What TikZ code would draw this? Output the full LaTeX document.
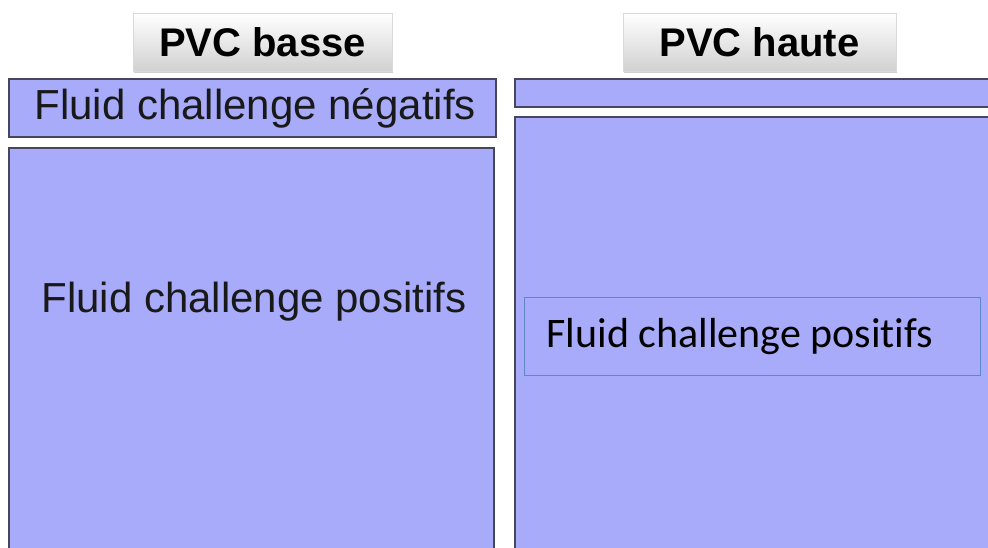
\documentclass[tikz,border=0pt]{standalone}
\usepackage{fontspec}
\setmainfont{Liberation Sans}
\newfontfamily\calib[Ligatures=NoCommon]{Carlito}
\usetikzlibrary{shadows}
\definecolor{fillblue}{RGB}{168,170,250}
\definecolor{edgegray}{RGB}{70,70,95}
\definecolor{innerblue}{RGB}{95,135,200}
\tikzset{
  x=1pt, y=-1pt,
  panel/.style={draw=edgegray, line width=2.8pt, fill=fillblue},
  header/.style={top color=white, bottom color=black!18, draw=black!15, line width=0.5pt,
     drop shadow={shadow xshift=1pt, shadow yshift=-2pt, opacity=0.35}},
  headtext/.style={font=\fontsize{40}{44}\selectfont\bfseries, text=black},
  bigtext/.style={font=\fontsize{42}{46}\selectfont, text=black!90},
  innertext/.style={font=\calib\fontsize{42}{46}\selectfont, text=black}
}
\begin{document}
\begin{tikzpicture}
\useasboundingbox (0,0) rectangle (988,548);
\fill[white] (0,0) rectangle (988,548);
\begin{scope}
\clip (0,0) rectangle (988,548);
% headers
\node[header, minimum width=259pt, minimum height=58pt, inner sep=0pt] (hl) at (262.5,42) {};
\node[header, minimum width=273pt, minimum height=58pt, inner sep=0pt] (hr) at (759.5,42) {};
\node[headtext] (hlt) at (hl.center) {PVC basse};
\node[headtext] (hrt) at (hr.center) {PVC haute};
% left column
\draw[panel] (9,79) rectangle (496,137);
\node[bigtext, anchor=west] (neg) at (31,108) {Fluid challenge négatifs};
\draw[panel] (9,148) rectangle (494,560);
\node[bigtext] (posl) at (254,302) {Fluid challenge positifs};
% right column
\draw[panel] (515,79) rectangle (1000,107);
\draw[panel] (515,117) rectangle (1000,560);
\node[draw=innerblue, line width=0.8pt, minimum width=456pt, minimum height=78pt, inner sep=0pt] (inner) at (752,336) {};
\node[innertext, anchor=west] (posr) at (543,337) {Fluid challenge positifs};
\end{scope}
\end{tikzpicture}
\end{document}
